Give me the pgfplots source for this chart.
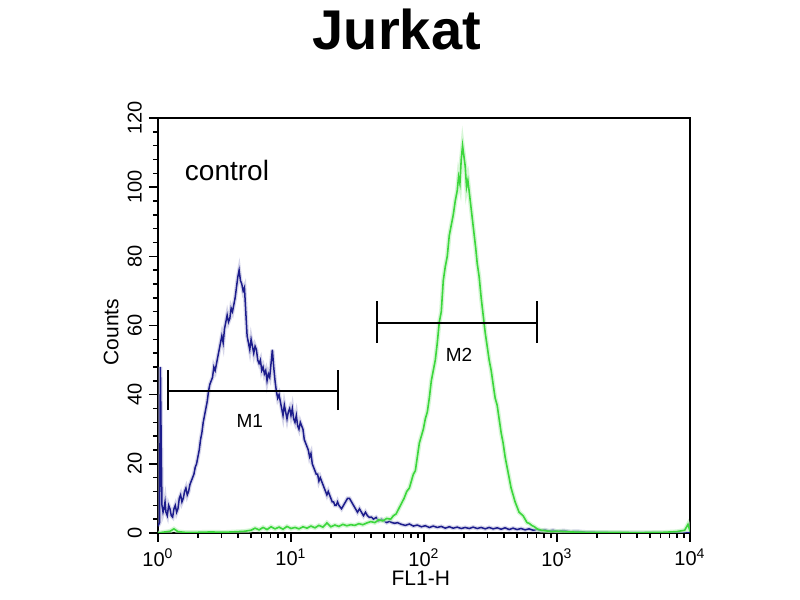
\documentclass[border=0pt]{standalone}
\usepackage{fontspec}
\setmainfont{Liberation Sans}
\usepackage{pgfplots}
\usepackage{pgfplotstable}
\pgfplotsset{compat=1.18}

\definecolor{ctrlblue}{RGB}{28,28,140}
\definecolor{fcgreen}{RGB}{60,215,60}

% x = decade (log10 of FL1-H), y = counts
\pgfplotstableread{
d c
0.000 2
0.012 3
0.018 48
0.024 26
0.030 8
0.038 6
0.045 7
0.053 9
0.060 6
0.070 5
0.080 8
0.090 7
0.100 5
0.110 4.6
0.120 7
0.130 8
0.140 6
0.150 7
0.160 10
0.170 11
0.180 9
0.190 10
0.200 12
0.210 13
0.220 11
0.230 12
0.240 14
0.250 15
0.260 16
0.270 17
0.280 19
0.290 20
0.300 22
0.310 24
0.320 27
0.330 29
0.340 32
0.350 34
0.360 36
0.370 38
0.380 41
0.390 43
0.400 44
0.410 45
0.420 48
0.430 47
0.440 49
0.450 51
0.460 53
0.470 55
0.480 57
0.490 55
0.500 59
0.510 61
0.520 63
0.530 61
0.540 62
0.550 65
0.560 64
0.570 66
0.580 68
0.590 71
0.600 74
0.610 76
0.620 73
0.630 72
0.640 70
0.650 71
0.660 64
0.670 57
0.680 55
0.690 53
0.700 56
0.710 54
0.720 52
0.730 54
0.740 53
0.750 50
0.760 49
0.770 50
0.780 47
0.790 48
0.800 46
0.810 47
0.820 44
0.830 46
0.840 45
0.850 49
0.860 53
0.870 48
0.880 44
0.890 41
0.900 39
0.910 40
0.920 38
0.930 36
0.940 34
0.950 37
0.960 35
0.970 33
0.980 35
0.990 36
1.000 34
1.010 36
1.020 33
1.030 32
1.040 34
1.050 31
1.060 30
1.070 32
1.080 31
1.090 30
1.100 27
1.110 26
1.120 25
1.130 24
1.140 22
1.150 23
1.160 20
1.170 19
1.180 18
1.190 17
1.200 17
1.210 15
1.220 16
1.230 15
1.240 14
1.250 13
1.260 12
1.270 11
1.280 12
1.290 11
1.300 10
1.310 9
1.320 9
1.330 8
1.340 8
1.350 9
1.360 8
1.370 7.5
1.380 7
1.395 8
1.410 9
1.425 10
1.440 10
1.455 9
1.470 8
1.485 7
1.500 6
1.515 7
1.530 6
1.545 5
1.560 6
1.575 5
1.590 4.5
1.605 4.6
1.620 4
1.640 4.5
1.660 3.5
1.680 4
1.700 3.5
1.720 3
1.740 3.4
1.760 3
1.780 2.8
1.800 3
1.830 2.5
1.860 2.2
1.890 2.6
1.920 2
1.950 2.3
1.980 1.8
2.010 2.1
2.040 1.6
2.070 2
2.100 1.6
2.130 1.9
2.160 1.4
2.190 1.8
2.220 1.4
2.250 1.7
2.280 1.3
2.310 1.6
2.340 1.3
2.370 1.7
2.400 1.3
2.430 1.6
2.460 1.2
2.490 1.6
2.520 1.2
2.550 1.5
2.580 1.1
2.610 1.5
2.640 1.0
2.670 1.4
2.700 1.0
2.730 1.3
2.760 0.9
2.790 1.2
2.820 0.8
2.850 1.0
2.880 0.7
2.910 0.9
2.940 0.6
2.970 0.8
3.000 0.5
3.050 0.7
3.100 0.4
3.150 0.5
3.200 0.3
3.300 0.2
3.450 0.1
3.700 0.1
4.000 0
}\controldata

\pgfplotstableread{
d c
0.000 0
0.050 0.3
0.090 0.5
0.120 1.2
0.150 0.4
0.200 0.2
0.300 0.2
0.400 0.3
0.500 0.2
0.600 0.4
0.650 0.5
0.700 0.8
0.730 1.4
0.760 0.9
0.790 1.6
0.820 1.0
0.850 1.8
0.880 1.2
0.910 1.7
0.940 1.1
0.970 1.9
1.000 1.3
1.030 1.6
1.060 1.2
1.090 1.8
1.120 1.4
1.150 2.0
1.180 1.5
1.210 2.2
1.240 1.7
1.270 2.9
1.300 1.8
1.330 2.3
1.360 1.9
1.390 2.5
1.420 2.1
1.450 2.4
1.480 2.2
1.510 2.7
1.540 2.4
1.570 2.9
1.600 3.3
1.630 3.0
1.660 3.8
1.690 3.5
1.720 4.2
1.750 4.0
1.770 5
1.790 5.5
1.810 7
1.830 8.5
1.850 10
1.870 12
1.890 13
1.905 15
1.920 17
1.935 18
1.950 22
1.965 26
1.980 28
1.995 30
2.010 33
2.025 35
2.040 39
2.055 44
2.070 47
2.085 50
2.100 55
2.115 61
2.130 64
2.145 73
2.160 77
2.175 80
2.190 86
2.205 89
2.220 92
2.235 96
2.250 99
2.260 103
2.270 101
2.280 108
2.290 112
2.300 109
2.310 106
2.320 100
2.330 102
2.345 97
2.360 92
2.375 87
2.390 82
2.400 78
2.415 74
2.430 68
2.445 63
2.460 58
2.475 54
2.490 50
2.505 47
2.520 43
2.535 39
2.550 37
2.565 33
2.580 29
2.595 26
2.610 22
2.625 19
2.640 16
2.655 13
2.670 11
2.685 9
2.700 7.5
2.715 6
2.730 5.5
2.745 5
2.760 4
2.775 3
2.790 2.8
2.810 2.2
2.830 1.8
2.850 1.2
2.880 0.8
2.920 0.6
2.960 0.4
3.000 0.5
3.100 0.3
3.200 0.2
3.400 0.2
3.600 0.1
3.800 0.2
3.900 0.4
3.960 0.8
3.985 2.5
4.000 0.5
}\sampledata

\begin{document}
\begin{tikzpicture}
\path[use as bounding box, fill=white] (-79pt,-33.5pt) rectangle (321pt,266.5pt);
\begin{axis}[
  at={(0,0)}, anchor=south west,
  scale only axis, width=266pt, height=207.5pt,
  xmin=0, xmax=4, ymin=0, ymax=120,
  axis line style={line width=1pt},
  tick align=outside, xtick pos=bottom, ytick pos=left,
  major tick length=4.5pt, minor tick length=2.5pt,
  tick style={black, line width=0.8pt},
  xtick={0,1,2,3,4},
  xticklabels={10\textsuperscript{0},10\textsuperscript{1},10\textsuperscript{2},10\textsuperscript{3},10\textsuperscript{4}},
  minor xtick={0.301,0.477,0.602,0.699,0.778,0.845,0.903,0.954,
               1.301,1.477,1.602,1.699,1.778,1.845,1.903,1.954,
               2.301,2.477,2.602,2.699,2.778,2.845,2.903,2.954,
               3.301,3.477,3.602,3.699,3.778,3.845,3.903,3.954},
  ytick={0,20,...,120}, minor y tick num=4,
  /pgf/number format/assume math mode=true,
  ticklabel style={font=\fontsize{10}{12}\selectfont},
  yticklabel style={rotate=90, anchor=south},
  xlabel={FL1-H}, ylabel={Counts},
  xlabel style={font=\fontsize{10.5}{12}\selectfont, at={(axis description cs:0.494,-0.108)}, anchor=center},
  ylabel style={font=\fontsize{10.5}{12}\selectfont, at={(axis description cs:-0.088,0.484)}, anchor=center},
  title={Jurkat},
  title style={font=\bfseries\fontsize{28}{30}\selectfont, at={(axis description cs:0.449,1.135)}, anchor=base},
]
\addplot[ctrlblue!35, line width=2pt, opacity=0.5] table[x=d, y=c] {\controldata};
\addplot[ctrlblue, line width=0.75pt] table[x=d, y=c] {\controldata};
\addplot[fcgreen!35, line width=2.2pt, opacity=0.6] table[x=d, y=c] {\sampledata};
\addplot[fcgreen, line width=0.8pt] table[x=d, y=c] {\sampledata};
% M1 and M2 gates
\addplot[black, line width=0.9pt] coordinates {(0.075,41) (1.353,41)};
\addplot[black, line width=0.9pt] coordinates {(0.075,35.5) (0.075,47)};
\addplot[black, line width=0.9pt] coordinates {(1.353,35.5) (1.353,47)};
\addplot[black, line width=0.9pt] coordinates {(1.647,60.7) (2.85,60.7)};
\addplot[black, line width=0.9pt] coordinates {(1.647,55) (1.647,67)};
\addplot[black, line width=0.9pt] coordinates {(2.85,55) (2.85,67)};
\node[anchor=base, font=\fontsize{9.5}{11}\selectfont] at (axis cs:0.69,30.6) {M1};
\node[anchor=base, font=\fontsize{9.5}{11}\selectfont] at (axis cs:2.263,49.5) {M2};
\node[anchor=base west, inner sep=0pt, font=\fontsize{14}{16}\selectfont] at (axis cs:0.2,102) {control};
\end{axis}
\end{tikzpicture}
\end{document}
